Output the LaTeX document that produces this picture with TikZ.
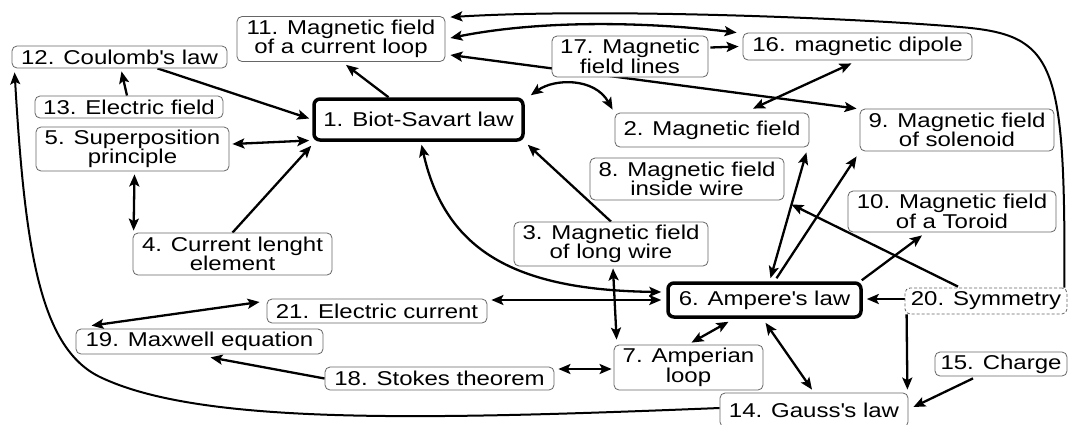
\documentclass[tikz,border=0pt]{standalone}
\usepackage{fontspec}
\setmainfont{Liberation Sans}[FakeStretch=1.2]
\usetikzlibrary{arrows.meta,calc}
\pgfdeclarelayer{bgzero}
\pgfdeclarelayer{edges}
\pgfsetlayers{bgzero,edges,main}
\newcommand{\q}{\textquotesingle}
\tikzset{
  box/.style={draw=black!60, line width=0.8pt, rounded corners=5pt, fill=white, align=center,
    inner sep=0pt, font=\fontsize{20}{19.5}\selectfont, text=black},
  keybox/.style={box, draw=black, line width=3.5pt, rounded corners=6pt},
  dbox/.style={box, dash pattern=on 3pt off 2pt},
  tip/.tip={Stealth[length=12pt,width=10pt,inset=2.5pt]},
  arr/.style={line width=2.3pt, -tip},
  darr/.style={line width=2.3pt, tip-tip},
  carr/.style={line width=2pt, -tip},
}
\begin{document}
\begin{tikzpicture}[x=1pt,y=-1pt]
\useasboundingbox (0,0) rectangle (1068,424);
\begin{pgfonlayer}{bgzero}
\fill[white] (0,0) rectangle (1068,424);
\end{pgfonlayer}
% nodes
\node[box,minimum width=208pt,minimum height=45pt] (n11) at (341,39) {11. Magnetic field\\of a current loop};
\node[box,minimum width=215pt,minimum height=22pt] (n12) at (119.5,57) {12. Coulomb\q s law};
\node[box,minimum width=188pt,minimum height=22pt] (n13) at (129,107) {13. Electric field};
\node[box,minimum width=193pt,minimum height=44pt] (n5) at (132.5,149) {5. Superposition\\principle};
\node[keybox,minimum width=209pt,minimum height=41pt] (n1) at (418.5,119.5) {1. Biot-Savart law};
\node[box,minimum width=156pt,minimum height=41pt] (n17) at (630,56.5) {17. Magnetic\\field lines};
\node[box,minimum width=229pt,minimum height=27pt] (n16) at (857.5,46.5) {16. magnetic dipole};
\node[box,minimum width=194pt,minimum height=34pt] (n2) at (712,130) {2. Magnetic field};
\node[box,minimum width=194pt,minimum height=42pt] (n9) at (957,130) {9. Magnetic field\\of solenoid};
\node[box,minimum width=194pt,minimum height=42pt] (n8) at (687,179) {8. Magnetic field\\inside wire};
\node[box,minimum width=208pt,minimum height=41pt] (n10) at (952,211.5) {10. Magnetic field\\of a Toroid};
\node[box,minimum width=194pt,minimum height=44pt] (n3) at (611,244) {3. Magnetic field\\of long wire};
\node[keybox,minimum width=193pt,minimum height=34pt] (n6) at (764.5,300) {6. Ampere\q s law};
\node[dbox,minimum width=162pt,minimum height=26pt] (n20) at (986,301) {20. Symmetry};
\node[box,minimum width=220pt,minimum height=24pt] (n21) at (377,311) {21. Electric current};
\node[box,minimum width=247pt,minimum height=25pt] (n19) at (199.5,341.5) {19. Maxwell equation};
\node[box,minimum width=149pt,minimum height=45pt] (n7) at (688.5,367.5) {7. Amperian\\loop};
\node[box,minimum width=229pt,minimum height=23pt] (n18) at (439.5,378.5) {18. Stokes theorem};
\node[box,minimum width=132pt,minimum height=24pt] (n15) at (1001,364) {15. Charge};
\node[box,minimum width=188pt,minimum height=34pt] (n14) at (814,410) {14. Gauss\q s law};
\node[box,minimum width=199pt,minimum height=42pt] (n4) at (232.5,254) {4. Current lenght\\element};
% edges
\begin{pgfonlayer}{edges}
\draw[arr] ($(n12.south)+(38,0)$) -- ($(n1.west)+(-3,-1)$);
\draw[arr] ($(n13.north)+(-2,0)$) -- ($(n12.south)+(2,3)$);
\draw[darr] ($(n5.east)+(3,-5)$) -- ($(n1.west)+(-3,21)$);
\draw[arr] (n4.north) -- ($(n1.south west)+(-1,4)$);
\draw[darr] ($(n5.south)+(2,3)$) -- ($(n4.north west)+(1,-2)$);
\draw[arr] ($(n1.north)+(-30,0)$) -- ($(n11.south)+(5,3)$);
\draw[darr] ($(n1.north east)+(6,-2)$) .. controls ($(n1.north east)+(30,-19)$) and ($(n2.north west)+(-20,-35)$) .. ($(n2.north west)+(-2,-3)$);
\draw[arr] (n3.north) -- ($(n1.south east)+(3,3)$);
\draw[darr] ($(n1.south)+(3,3)$) .. controls ($(n1.south)+(27,110)$) and ($(n6.west)+(-150,-10)$) .. ($(n6.west)+(-5,-8)$);
\draw[darr] ($(n21.east)+(4,-11)$) -- ($(n6.west)+(-5,0)$);
\draw[darr] ($(n21.west)+(-7,-9)$) -- ($(n19.north west)+(16,-3)$);
\draw[arr] (n18.west) -- ($(n19.south)+(11,3)$);
\draw[darr] ($(n18.east)+(4,-9.5)$) -- ($(n7.west)+(-2,1.5)$);
\draw[darr] ($(n3.south)+(2,2)$) -- ($(n7.north west)+(3,-5)$);
\draw[darr] ($(n6.south)+(-36,3)$) -- ($(n7.north)+(3,-2)$);
\draw[darr] ($(n6.south)+(1,4)$) -- ($(n14.north)+(-2,-3)$);
\draw[arr] ($(n20.west)+(0,-2)$) -- ($(n6.east)+(4,-1)$);
\draw[arr] ($(n20.south west)+(2,0)$) -- ($(n14.north east)+(-1,-3)$);
\draw[arr] ($(n15.south)+(-28,2)$) -- ($(n14.east)+(5,-3)$);
\draw[arr] ($(n20.north)+(-28,-1)$) -- ($(n8.south east)+(7,4)$);
\draw[darr] ($(n6.north)+(6,-3)$) -- ($(n2.south east)+(-3,5)$);
\draw[arr] ($(n6.north)+(12,-3)$) -- ($(n9.south west)+(-3,5)$);
\draw[arr] ($(n6.north east)+(-1,-1)$) -- ($(n10.south)+(-30,3)$);
\draw[darr] ($(n2.north)+(41,-4)$) -- ($(n16.south)+(-6,3)$);
\draw[darr] ($(n11.east)+(5,16)$) -- ($(n9.north west)+(-3,0)$);
\draw[arr] ($(n17.east)+(2,-9)$) -- ($(n16.west)+(-4,0)$);
\draw[darr] ($(n11.east)+(5,-1)$) .. controls ($(n11.east)+(100,-20)$) and ($(n16.north west)+(-90,-10)$) .. ($(n16.north west)+(-6,0)$);
\coordinate (tr) at (960,27);
\draw[carr] ($(n20.north east)+(-3,0)$) .. controls ($(n20.north east)+(-2,-228)$) and (1055,35) .. (tr)
  .. controls (850,17.7) and (600,8) .. ($(n11.north east)+(5,1)$);
\coordinate (bl) at (100,377);
\draw[carr] ($(n14.west)+(0,-2)$) .. controls (420,420) and (200,425) .. (bl)
  .. controls (40,348) and (25,250) .. ($(n12.south west)+(3,4)$);
\end{pgfonlayer}
\end{tikzpicture}
\end{document}
